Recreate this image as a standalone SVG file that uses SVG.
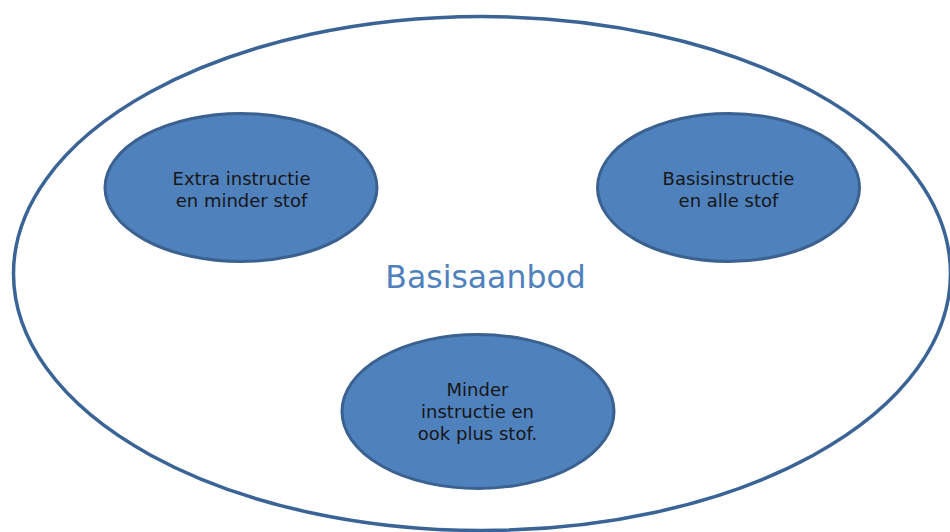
<svg xmlns="http://www.w3.org/2000/svg" width="950" height="532" viewBox="0 0 950 532">
<style>
.outer{fill:#ffffff;stroke:#3a6496;stroke-width:3.5}
.inner{fill:#4f81bd;stroke:#3a6190;stroke-width:3}
.lbl{font-family:"DejaVu Sans",Verdana,sans-serif;font-size:18px;fill:#161616;text-anchor:middle}
.big{font-family:"DejaVu Sans",Verdana,sans-serif;font-size:31.5px;fill:#4f81bd;text-anchor:middle}
</style>
<rect width="950" height="532" fill="#ffffff"/>
<g id="basisaanbod">
<ellipse class="outer" cx="482" cy="273.5" rx="468.5" ry="257"/>
<text class="big" x="485.5" y="288">Basisaanbod</text>
</g>
<g id="connectors"></g>
<g id="node-extra">
<ellipse class="inner" cx="241" cy="187.5" rx="136" ry="74"/>
<text class="lbl" x="241.5" y="185">Extra instructie</text>
<text class="lbl" x="241.5" y="207">en minder stof</text>
</g>
<g id="node-basis">
<ellipse class="inner" cx="728.5" cy="187.5" rx="131" ry="74"/>
<text class="lbl" x="728.5" y="185">Basisinstructie</text>
<text class="lbl" x="728.5" y="207">en alle stof</text>
</g>
<g id="node-minder">
<ellipse class="inner" cx="478" cy="411.5" rx="136" ry="77"/>
<text class="lbl" x="477.5" y="396">Minder</text>
<text class="lbl" x="477.5" y="418">instructie en</text>
<text class="lbl" x="477.5" y="440">ook plus stof.</text>
</g>
</svg>
